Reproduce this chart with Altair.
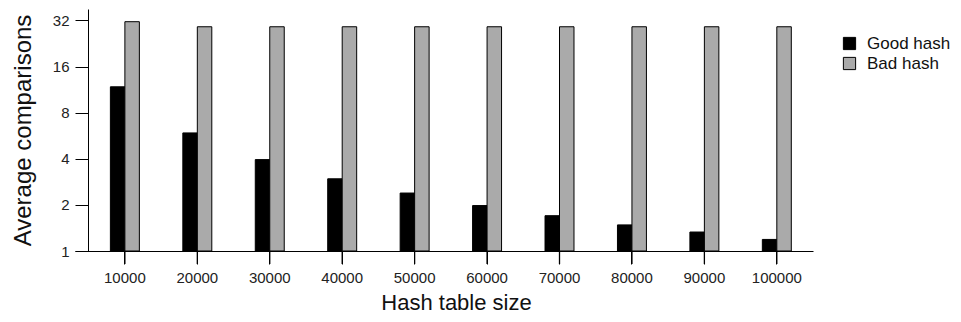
import altair as alt
import pandas as pd

sizes = ["10000", "20000", "30000", "40000", "50000", "60000", "70000", "80000", "90000", "100000"]
good_hash = [11.8, 5.9, 3.95, 2.96, 2.39, 1.98, 1.70, 1.48, 1.33, 1.19]
bad_hash = [31.4, 29.1, 29.1, 29.1, 29.1, 29.1, 29.1, 29.1, 29.1, 29.1]
series = ["Good hash", "Bad hash"]
y_ticks = [1, 2, 4, 8, 16, 32]

rows = []
for s, g, b in zip(sizes, good_hash, bad_hash):
    rows.append({"size": s, "series": series[0], "value": g})
    rows.append({"size": s, "series": series[1], "value": b})
df = pd.DataFrame(rows)
tick_df = pd.DataFrame({"size": sizes})

FONT = "Liberation Sans"

x_scale = alt.Scale(paddingInner=0.6, paddingOuter=0.394, align=0.62)

bars = alt.Chart(df).mark_bar(stroke="black", strokeWidth=1).encode(
    x=alt.X(
        "size:N",
        sort=sizes,
        scale=x_scale,
        axis=alt.Axis(
            title="Hash table size",
            labelAngle=0,
            domainColor="black",
            ticks=True,
            tickColor="black",
            tickWidth=1,
            tickSize=13,
            labelPadding=6,
            labelFont=FONT,
            labelFontSize=15,
            labelColor="#222222",
            titleFont=FONT,
            titleFontSize=22,
            titleFontWeight="normal",
            titleColor="#111111",
            titleX=381,
            titleY=58,
            titleBaseline="alphabetic",
            titleAlign="center",
        ),
    ),
    xOffset=alt.XOffset("series:N", sort=series, scale=alt.Scale(paddingInner=0, paddingOuter=0)),
    y=alt.Y(
        "value:Q",
        scale=alt.Scale(type="log", base=2, domain=[1, 38], nice=False, zero=False),
        axis=alt.Axis(
            title="Average comparisons",
            values=y_ticks,
            format="d",
            grid=False,
            offset=-13,
            domainColor="black",
            tickColor="black",
            tickSize=13,
            labelPadding=6,
            labelFont=FONT,
            labelFontSize=15,
            labelColor="#222222",
            titleFont=FONT,
            titleFontSize=24,
            titleFontWeight="normal",
            titleColor="#111111",
            titleAngle=-90,
            titleX=-58,
            titleY=121,
            titleBaseline="alphabetic",
            titleAlign="center",
        ),
    ),
    y2=alt.datum(1),
    color=alt.Color(
        "series:N",
        sort=series,
        scale=alt.Scale(domain=series, range=["#000000", "#aaaaaa"]),
        legend=alt.Legend(
            title=None,
            orient="none",
            legendX=766,
            legendY=26,
            symbolType="square",
            symbolSize=150,
            symbolStrokeColor="black",
            symbolStrokeWidth=1,
            labelFont=FONT,
            labelFontSize=17,
            labelColor="#111111",
            labelOffset=9,
            labelLimit=200,
            rowPadding=2,
        ),
    ),
)

# x-axis tick marks below the axis line, drawn as thin bars at each band centre
ticks = alt.Chart(tick_df).mark_bar(color="#000000", width=1.3).encode(
    x=alt.X("size:N", sort=sizes),
    y=alt.value(242),
    y2=alt.value(255),
)

chart = alt.layer(bars, ticks).properties(
    width=738,
    height=242,
    autosize=alt.AutoSizeParams(type="none"),
    padding={"left": 67, "top": 1, "right": 140, "bottom": 63},
).configure_view(stroke=None).configure_axis(grid=False)

chart.save("out.html", embed_options={"renderer": "svg", "actions": False})
